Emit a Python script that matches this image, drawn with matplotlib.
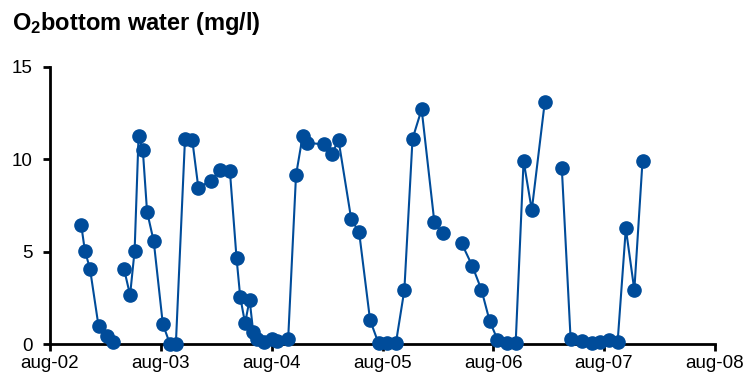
import matplotlib
matplotlib.use("Agg")
import matplotlib.pyplot as plt
import numpy as np
import pandas as pd

plt.rcParams["font.family"] = ["Liberation Sans", "DejaVu Sans"]
plt.rcParams["mathtext.default"] = "regular"

# Sampling dates; the in-between dates carry NaN to interrupt the line
dates = [
    "2002-11-12", "2002-11-24", "2002-12-11", "2003-01-08", "2003-02-06", "2003-02-24",
    "2003-03-15",
    "2003-04-02", "2003-04-22", "2003-05-07", "2003-05-20", "2003-06-03", "2003-06-17",
    "2003-07-09", "2003-08-08", "2003-08-31", "2003-09-20", "2003-10-20", "2003-11-13",
    "2003-12-03", "2004-01-14", "2004-02-12", "2004-03-16", "2004-04-07", "2004-04-19",
    "2004-05-05", "2004-05-20", "2004-06-01", "2004-06-14", "2004-07-06", "2004-08-03",
    "2004-08-19", "2004-09-24", "2004-10-20", "2004-11-11", "2004-11-24", "2005-01-20",
    "2005-02-15", "2005-03-09", "2005-04-20", "2005-05-16", "2005-06-21", "2005-07-19",
    "2005-08-17", "2005-09-14", "2005-10-12", "2005-11-08", "2005-12-08", "2006-01-19",
    "2006-02-15",
    "2006-03-20",
    "2006-04-19", "2006-05-24", "2006-06-23", "2006-07-20", "2006-08-15", "2006-09-14",
    "2006-10-14", "2006-11-09", "2006-12-06", "2007-01-18",
    "2007-02-15",
    "2007-03-15", "2007-04-13", "2007-05-19", "2007-06-21", "2007-07-19", "2007-08-18",
    "2007-09-15", "2007-10-12", "2007-11-09", "2007-12-06",
]

# Oxygen in bottom water (mg/l); NaN = no measurement (line break)
o2 = [
    6.45, 5.07, 4.08, 1.00, 0.48, 0.12,
    np.nan,
    4.08, 2.67, 5.07, 11.26, 10.50, 7.17,
    5.57, 1.10, 0.05, 0.05, 11.10, 11.04,
    8.47, 8.85, 9.42, 9.37, 4.65, 2.58,
    1.15, 2.42, 0.65, 0.29, 0.13, 0.31,
    0.17, 0.28, 9.15, 11.28, 10.90, 10.80,
    10.29, 11.04, 6.76, 6.06, 1.32, 0.06,
    0.10, 0.06, 2.94, 11.11, 12.70, 6.60,
    6.00,
    np.nan,
    5.46, 4.24, 2.96, 1.28, 0.26, 0.10,
    0.10, 9.92, 7.26, 13.11,
    np.nan,
    9.53, 0.30, 0.19, 0.06, 0.12, 0.24,
    0.15, 6.27, 2.94, 9.91,
]

tick_dates = ["2002-08-01", "2003-08-01", "2004-08-01", "2005-08-01",
              "2006-08-01", "2007-08-01", "2008-08-01"]
tick_labels = ["aug-02", "aug-03", "aug-04", "aug-05", "aug-06", "aug-07", "aug-08"]
y_ticks = [0, 5, 10, 15]

x = pd.to_datetime(dates)
xt = pd.to_datetime(tick_dates)
blue = "#004C9A"

fig = plt.figure(figsize=(7.47, 3.76), dpi=100)
ax = fig.add_axes([0.0669, 0.0838, 0.8903, 0.7388])

ax.plot(x, o2, color=blue, lw=1.5, marker="o", ms=9.5, mfc=blue, mec=blue,
        clip_on=False, zorder=5)

ax.set_xlim(xt[0], xt[-1])
ax.set_ylim(0, 15)
ax.set_xticks(xt)
ax.set_xticklabels(tick_labels)
ax.set_yticks(y_ticks)

for side in ("top", "right"):
    ax.spines[side].set_visible(False)
for side in ("left", "bottom"):
    ax.spines[side].set_linewidth(2.0)
    ax.spines[side].set_color("black")

ax.tick_params(axis="both", direction="out", length=5, width=2.0, colors="black",
               labelsize=13.5)
ax.tick_params(axis="x", pad=2.5)
ax.tick_params(axis="y", pad=7.5)

fig.text(0.016, 0.92, r"O$_{2}$bottom water (mg/l)", fontsize=17,
         fontweight="bold", ha="left", va="baseline")

fig.savefig("out.png", dpi=100)
